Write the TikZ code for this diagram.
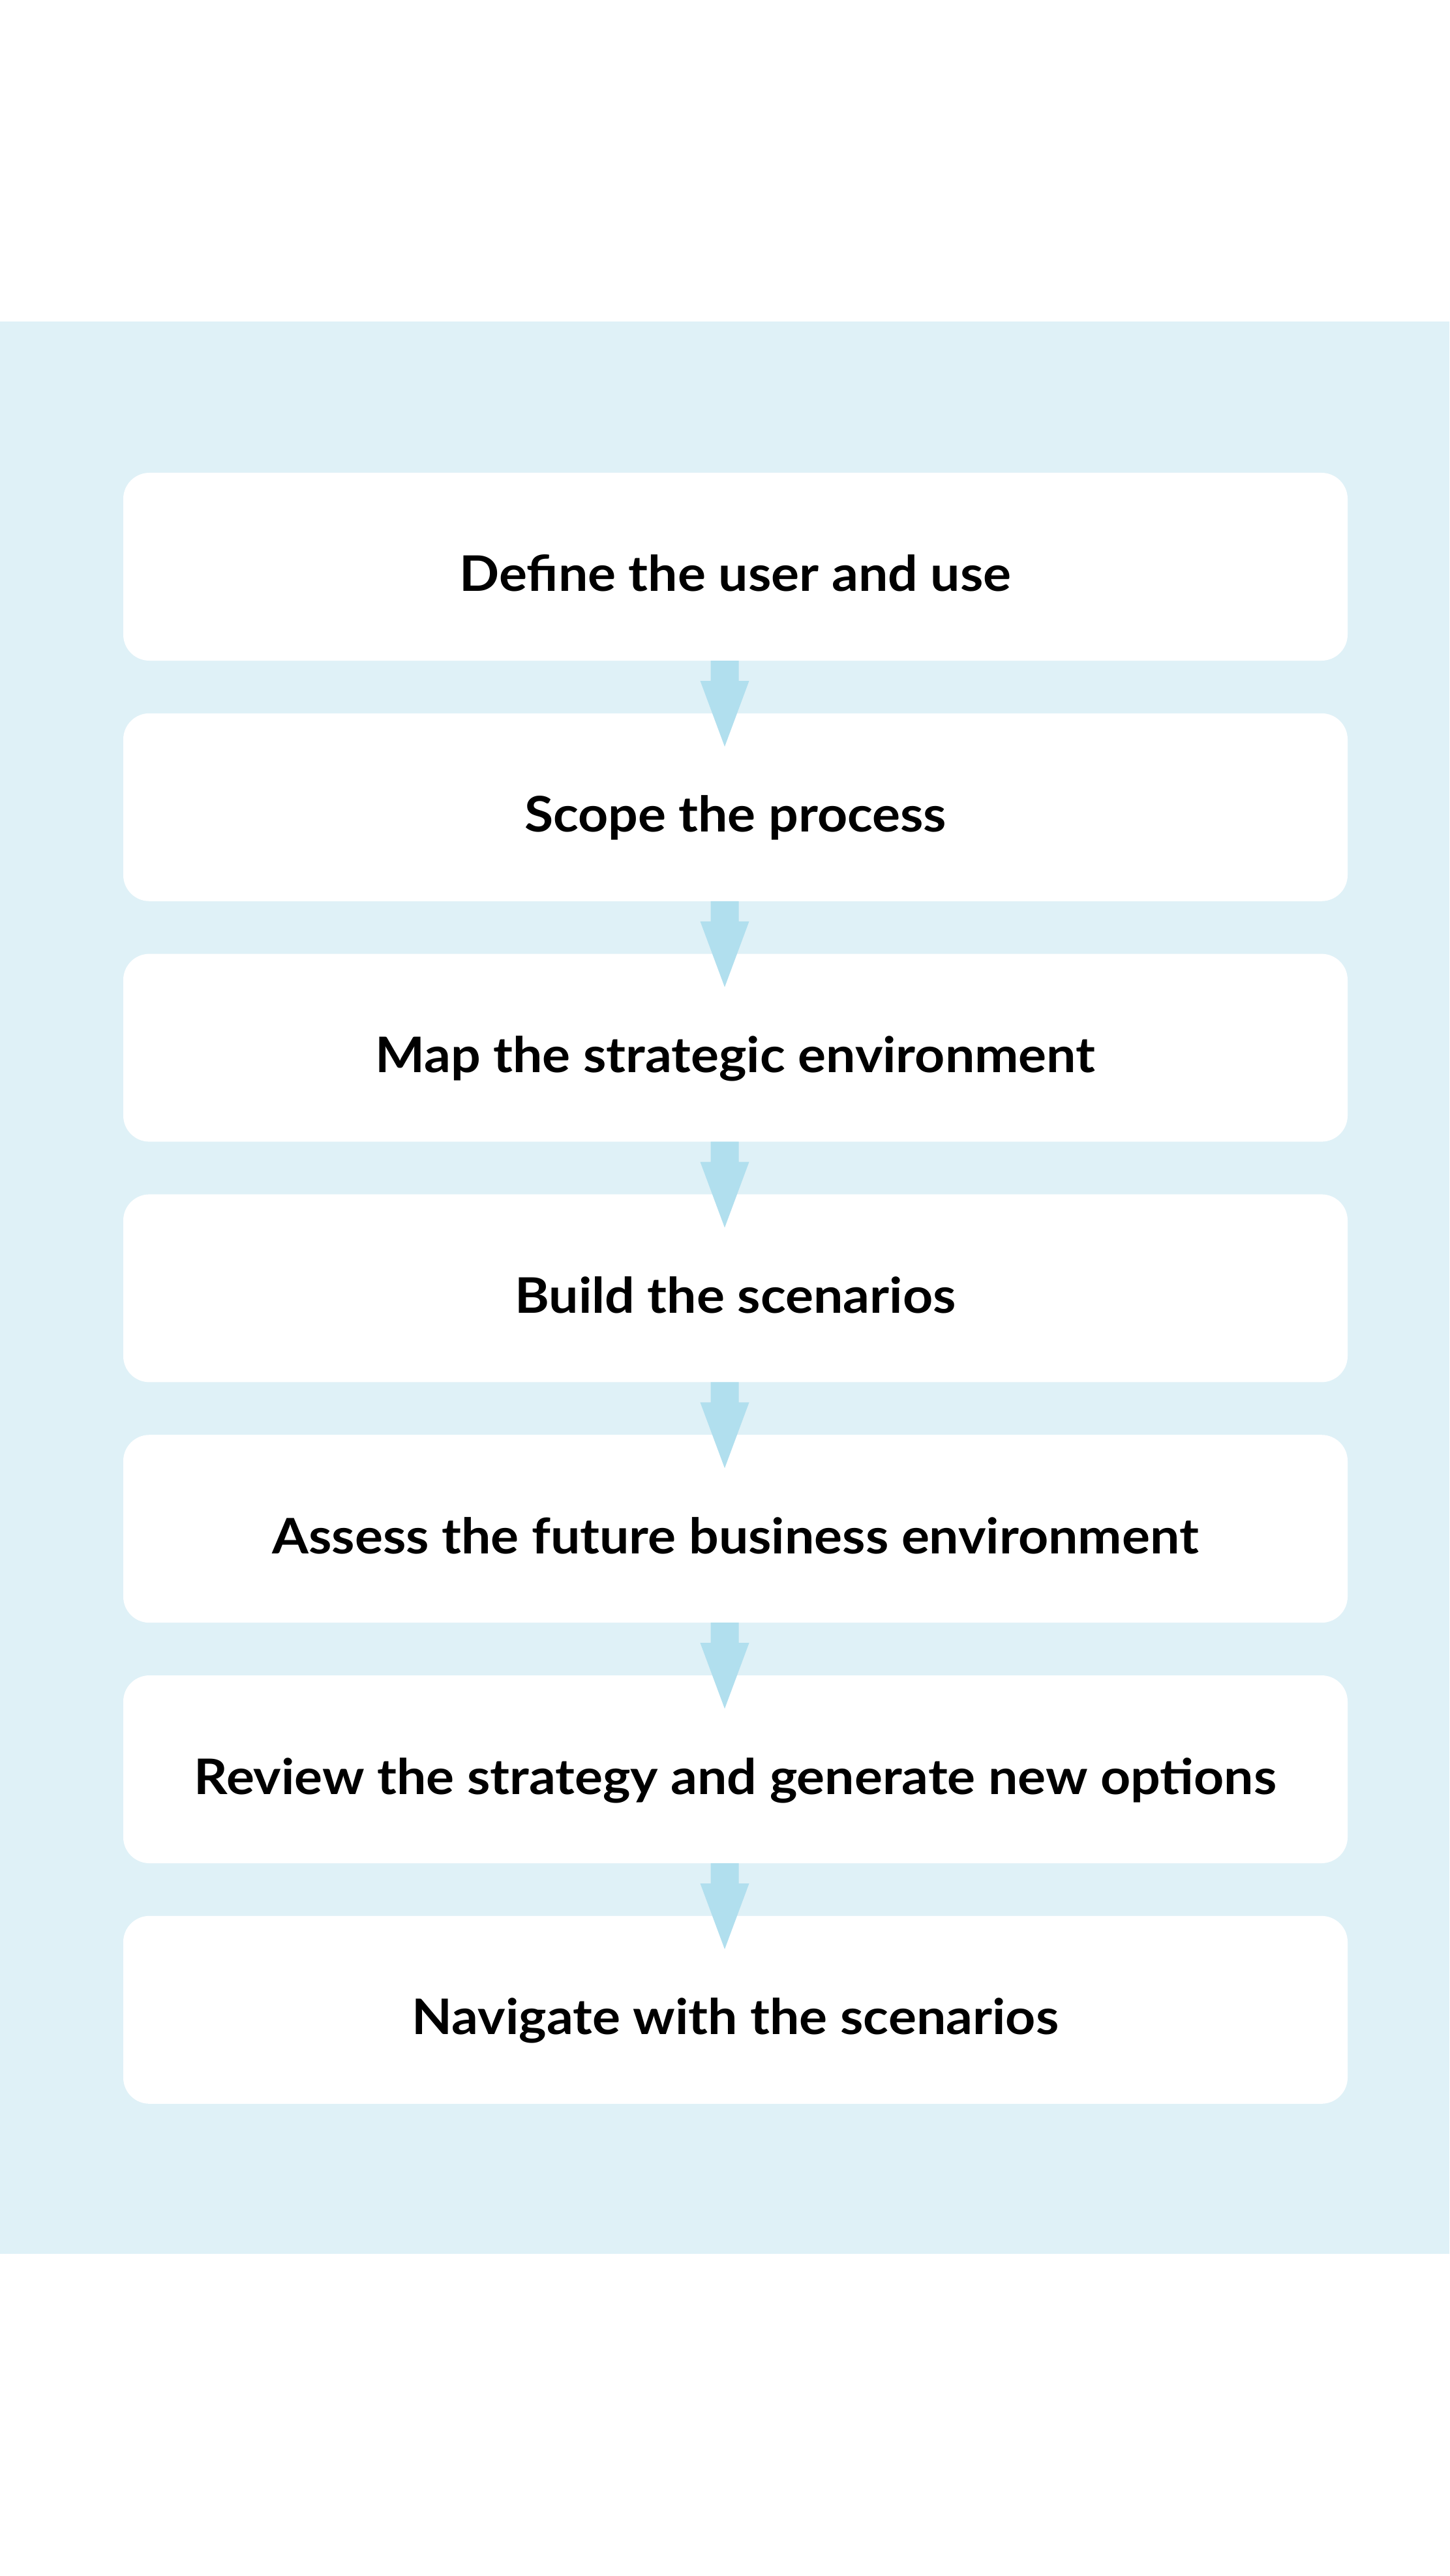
\documentclass[tikz,border=0pt]{standalone}
\usepackage{fontspec}
\setmainfont{Lato}[FakeStretch=1.07]
\usetikzlibrary{positioning,calc}

\definecolor{panelblue}{RGB}{223,241,247}
\definecolor{arrowblue}{RGB}{177,223,238}

\begin{document}
\begin{tikzpicture}[
  stepbox/.style={fill=white, rounded corners=0.4cm,
    minimum width=18.77cm, minimum height=2.88cm,
    inner sep=0pt, outer sep=0pt,
    text height=0.76cm, text depth=0cm,
    font=\fontsize{21.4}{26}\selectfont\bfseries},
  node distance=0.808cm
]

\def\shaft{0.215}
\def\head{0.375}
\def\neck{0.31}
\def\dip{0.51}
\def\shiftx{-0.165}

\useasboundingbox (0,0) rectangle (22.22,-39.50);
\fill[panelblue] (0,-4.93) rectangle (22.22,-34.56);

% the seven steps
\node[stepbox] (s1) at (11.275,-8.69) {Define the user and use};
\node[stepbox, below=of s1] (s2) {Scope the process};
\node[stepbox, below=of s2] (s3) {Map the strategic environment};
\node[stepbox, below=of s3] (s4) {Build the scenarios};
\node[stepbox, below=of s4] (s5) {Assess the future business environment};
\node[stepbox, below=of s5] (s6) {Review the strategy and generate new options};
\node[stepbox, below=of s6] (s7) {Navigate with the scenarios};

% arrows between steps
\foreach \a/\b in {s1/s2, s2/s3, s3/s4, s4/s5, s5/s6, s6/s7}
  \fill[arrowblue] ($(\a.south)+(\shiftx-\shaft,0)$) -- ++(0,-\neck)
    -- ++(\shaft-\head,0) -- ($(\b.north)+(\shiftx,-\dip)$)
    -- ($(\a.south)+(\shiftx+\head,-\neck)$) -- ++(\shaft-\head,0)
    -- ($(\a.south)+(\shiftx+\shaft,0)$) -- cycle;

\end{tikzpicture}
\end{document}
